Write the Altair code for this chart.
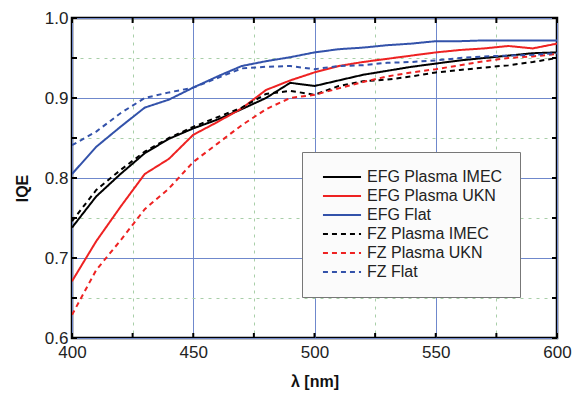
import altair as alt
import pandas as pd

wavelength = [400, 410, 420, 430, 440, 450, 460, 470, 480, 490, 500,
              510, 520, 530, 540, 550, 560, 570, 580, 590, 600]

efg_plasma_imec = [0.738, 0.777, 0.805, 0.831, 0.849, 0.862, 0.873, 0.886, 0.900, 0.919, 0.915,
                   0.922, 0.929, 0.934, 0.939, 0.943, 0.947, 0.950, 0.953, 0.956, 0.957]
efg_plasma_ukn = [0.671, 0.721, 0.764, 0.805, 0.824, 0.854, 0.870, 0.887, 0.910, 0.922, 0.932,
                  0.940, 0.945, 0.949, 0.953, 0.957, 0.960, 0.962, 0.965, 0.962, 0.968]
efg_flat = [0.805, 0.839, 0.864, 0.888, 0.898, 0.913, 0.927, 0.940, 0.946, 0.951, 0.957,
            0.961, 0.963, 0.966, 0.968, 0.971, 0.971, 0.972, 0.972, 0.972, 0.972]
fz_plasma_imec = [0.746, 0.785, 0.810, 0.833, 0.850, 0.864, 0.876, 0.888, 0.905, 0.909, 0.904,
                  0.915, 0.921, 0.923, 0.927, 0.932, 0.935, 0.938, 0.941, 0.945, 0.950]
fz_plasma_ukn = [0.629, 0.685, 0.722, 0.761, 0.787, 0.820, 0.843, 0.866, 0.886, 0.900, 0.904,
                 0.912, 0.920, 0.927, 0.932, 0.936, 0.941, 0.946, 0.950, 0.952, 0.955]
fz_flat = [0.841, 0.858, 0.881, 0.900, 0.907, 0.913, 0.925, 0.937, 0.939, 0.940, 0.936,
           0.940, 0.941, 0.944, 0.945, 0.947, 0.950, 0.952, 0.953, 0.954, 0.956]

series_names = ["EFG Plasma IMEC", "EFG Plasma UKN", "EFG Flat",
                "FZ Plasma IMEC", "FZ Plasma UKN", "FZ Flat"]
series_values = [efg_plasma_imec, efg_plasma_ukn, efg_flat,
                 fz_plasma_imec, fz_plasma_ukn, fz_flat]
series_colors = ["#000000", "#ee2222", "#3352aa", "#000000", "#ee2222", "#3352aa"]
series_dash = [[1, 0], [1, 0], [1, 0], [5, 4], [5, 4], [5, 4]]

x_ticks = [400, 425, 450, 475, 500, 525, 550, 575, 600]
y_ticks = [0.6, 0.65, 0.7, 0.75, 0.8, 0.85, 0.9, 0.95, 1.0]

rows = []
for name, vals in zip(series_names, series_values):
    for w, v in zip(wavelength, vals):
        rows.append({"wl": w, "iqe": v, "series": name})
df = pd.DataFrame(rows)
xt_df = pd.DataFrame({"wl": x_ticks})
yt_df = pd.DataFrame({"iqe": y_ticks})

W, H = 485, 320
FONT = "Liberation Sans"

x_major = "datum.value % 50 === 0"
y_major = "abs(datum.value*10 - round(datum.value*10)) < 0.001"

xscale = alt.Scale(domain=[400, 600], nice=False, zero=False)
yscale = alt.Scale(domain=[0.6, 1.0], nice=False, zero=False)

main_x_axis = alt.Axis(
    values=x_ticks, title="λ [nm]", titleFont=FONT, titleFontSize=16, titleFontWeight="bold",
    titleColor="#111", titlePadding=13, labelFont=FONT, labelFontSize=17, labelColor="#222",
    labelPadding=6, labelExpr="datum.value % 50 === 0 ? datum.label : ''",
    tickSize=0, domain=False, grid=True,
    gridColor={"condition": {"test": x_major, "value": "#6f88cc"}, "value": "#a8cfa8"},
    gridDash={"condition": {"test": x_major, "value": []}, "value": [3, 5]},
    gridWidth=1, labelFlush=False,
)
main_y_axis = alt.Axis(
    values=y_ticks, title="IQE", titleFont=FONT, titleFontSize=16, titleFontWeight="bold",
    titleColor="#111", titlePadding=14, titleY=170, labelFont=FONT, labelFontSize=17,
    labelColor="#222", labelPadding=4, format=".1f",
    labelExpr="(" + y_major + ") ? datum.label : ''",
    tickSize=0, domain=False, grid=True,
    gridColor={"condition": {"test": y_major, "value": "#6f88cc"}, "value": "#a8cfa8"},
    gridDash={"condition": {"test": y_major, "value": []}, "value": [3, 5]},
    gridWidth=1, labelFlush=False,
)

lines = alt.Chart(df).mark_line(strokeWidth=2, clip=True).encode(
    x=alt.X("wl:Q", scale=xscale, axis=main_x_axis),
    y=alt.Y("iqe:Q", scale=yscale, axis=main_y_axis),
    color=alt.Color("series:N", sort=series_names,
                    scale=alt.Scale(domain=series_names, range=series_colors),
                    legend=alt.Legend(
                        title="", orient="none", legendX=230, legendY=134,
                        fillColor="#fbfbfb", strokeColor="#777777", padding=17,
                        symbolType="M-5,0H5", symbolSize=58, symbolStrokeWidth=2,
                        symbolOffset=15, labelOffset=17, rowPadding=3,
                        labelFont=FONT, labelFontSize=16, labelColor="#222",
                        titlePadding=0)),
    strokeDash=alt.StrokeDash("series:N", sort=series_names,
                              scale=alt.Scale(domain=series_names, range=series_dash),
                              legend=None),
)

tick_bottom = alt.Chart(xt_df).mark_rule(color="black", strokeWidth=2).encode(
    x=alt.X("wl:Q", scale=xscale, axis=main_x_axis), y=alt.value(H), y2=alt.value(H - 5))
tick_top = alt.Chart(xt_df).mark_rule(color="black", strokeWidth=2).encode(
    x=alt.X("wl:Q", scale=xscale, axis=main_x_axis), y=alt.value(0), y2=alt.value(5))
tick_left = alt.Chart(yt_df).mark_rule(color="black", strokeWidth=2).encode(
    y=alt.Y("iqe:Q", scale=yscale, axis=main_y_axis), x=alt.value(0), x2=alt.value(5))
tick_right = alt.Chart(yt_df).mark_rule(color="black", strokeWidth=2).encode(
    y=alt.Y("iqe:Q", scale=yscale, axis=main_y_axis), x=alt.value(W), x2=alt.value(W - 5))

chart = alt.layer(lines, tick_bottom, tick_top, tick_left, tick_right).properties(
    width=W, height=H,
    autosize=alt.AutoSizeParams(type="none"),
    padding={"left": 64, "top": 10, "right": 20, "bottom": 56},
    background="white",
).configure_view(stroke="black", strokeWidth=2.5)

chart.save("out.html", embed_options={"renderer": "svg", "actions": False})
